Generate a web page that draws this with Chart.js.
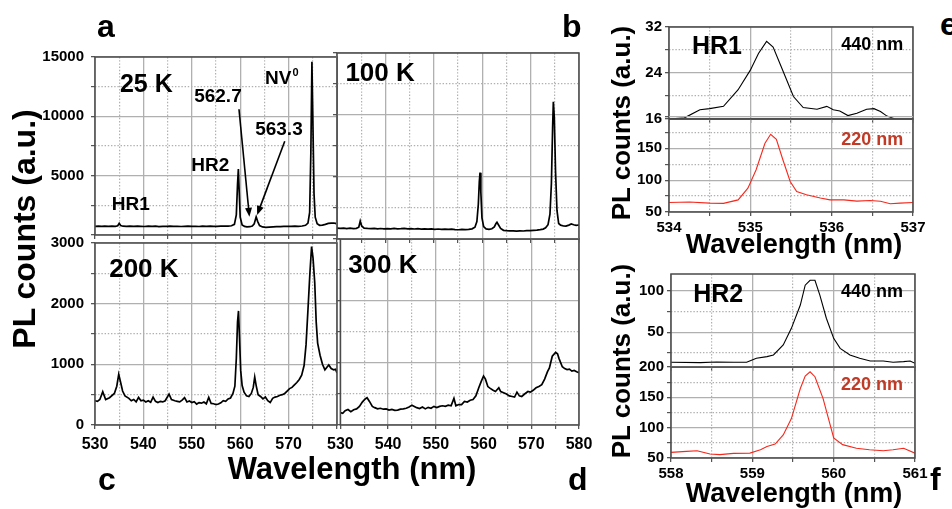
<!DOCTYPE html>
<html>
<head>
<meta charset="utf-8">
<script src="https://cdn.jsdelivr.net/npm/chart.js@4.4.1/dist/chart.umd.min.js"></script>
<style>
  body { margin: 0; background: #fff; width: 952px; height: 509px; overflow: hidden; position: relative;
         font-family: "Liberation Sans", Arial, Helvetica, sans-serif; }
  canvas { position: absolute; }
  .t { position: absolute; font-weight: bold; color: #000; white-space: nowrap; line-height: 1; }
</style>
</head>
<body>
<canvas id="pa"></canvas>
<canvas id="pb"></canvas>
<canvas id="pc"></canvas>
<canvas id="pd"></canvas>
<canvas id="peTop"></canvas>
<canvas id="peBot"></canvas>
<canvas id="pfTop"></canvas>
<canvas id="pfBot"></canvas>

<div class="t" style="left:-136px;top:213px;width:320px;text-align:center;font-size:32px;transform:rotate(-90deg)">PL counts (a.u.)</div>
<div class="t" style="left:152px;top:453px;width:400px;text-align:center;font-size:31px">Wavelength (nm)</div>
<div class="t" style="left:501px;top:110px;width:240px;text-align:center;font-size:26px;transform:rotate(-90deg)">PL counts (a.u.)</div>
<div class="t" style="left:644px;top:231px;width:300px;text-align:center;font-size:27px">Wavelength (nm)</div>
<div class="t" style="left:501px;top:348px;width:240px;text-align:center;font-size:26px;transform:rotate(-90deg)">PL counts (a.u.)</div>
<div class="t" style="left:644px;top:480px;width:300px;text-align:center;font-size:27px">Wavelength (nm)</div>

<div class="t" style="left:97px;top:10px;font-size:32px">a</div>
<div class="t" style="left:562px;top:10px;font-size:32px">b</div>
<div class="t" style="left:98px;top:463px;font-size:32px">c</div>
<div class="t" style="left:568px;top:463px;font-size:32px">d</div>
<div class="t" style="left:940px;top:8px;font-size:32px">e</div>
<div class="t" style="left:930px;top:463px;font-size:32px">f</div>

<script>
// spectra: [wavelength (nm), PL counts]
const spec25K = [[530,730],[530.7,745],[531.4,725],[532,740],[532.8,720],[533.5,745],[534.2,735],[534.7,780],[535.0,990],[535.3,800],[535.8,740],[536.5,725],[537.2,745],[538,720],[538.8,740],[539.5,730],[540.2,715],[541,740],[541.8,725],[542.5,745],[543.2,710],[544,735],[544.8,725],[545.5,745],[546.2,720],[547,735],[547.8,715],[548.5,730],[549.2,745],[550,725],[550.8,735],[551.5,715],[552.2,740],[553,730],[553.8,745],[554.5,725],[555.2,735],[556,740],[556.8,750],[557.5,745],[558.2,780],[558.8,900],[559.2,1700],[559.45,4300],[559.62,5560],[559.8,3600],[560.0,1500],[560.4,850],[560.9,720],[561.4,690],[562,700],[562.5,760],[562.9,950],[563.3,1530],[563.6,1150],[564,800],[564.6,680],[565.3,650],[566,670],[566.8,690],[567.5,700],[568.3,710],[569,720],[569.8,730],[570.5,725],[571.3,740],[572,735],[572.8,760],[573.5,820],[574,1000],[574.35,1900],[574.6,7000],[574.82,14590],[575.02,9500],[575.25,3500],[575.5,1500],[575.9,950],[576.4,820],[577,830],[577.6,900],[578.2,980],[578.8,1000],[579.3,1010],[579.7,980],[580,930]];
const spec100K = [[530,870],[530.7,850],[531.4,880],[532,845],[532.7,870],[533.4,840],[534,860],[534.5,950],[534.8,1450],[535.1,1050],[535.6,880],[536.3,850],[537,830],[537.7,855],[538.4,820],[539,845],[539.7,815],[540.4,840],[541.1,810],[541.8,850],[542.5,820],[543.2,835],[543.9,860],[544.6,815],[545.3,835],[546,805],[546.7,830],[547.4,800],[548.1,820],[548.8,790],[549.5,815],[550.2,780],[550.9,805],[551.6,775],[552.3,800],[553,770],[553.7,790],[554.4,760],[555.1,745],[555.8,770],[556.5,750],[557.2,780],[557.9,820],[558.5,950],[558.9,1400],[559.2,2800],[559.4,4600],[559.55,5350],[559.72,3800],[559.95,1700],[560.3,1000],[560.8,820],[561.4,780],[562,830],[562.5,980],[562.85,1250],[563.05,1350],[563.35,1150],[563.8,850],[564.4,700],[565,670],[565.7,650],[566.4,660],[567.1,640],[567.8,655],[568.5,645],[569.2,670],[569.9,680],[570.6,700],[571.3,720],[572,760],[572.6,800],[573.1,900],[573.6,1150],[574.0,2000],[574.3,4500],[574.55,9000],[574.7,11070],[574.9,9800],[575.15,5500],[575.45,2300],[575.8,1250],[576.2,1120],[576.8,1050],[577.3,1040],[577.9,1120],[578.4,1210],[578.9,1150],[579.4,1100],[580,1130]];
const spec200K = [[530,400],[530.5,390],[531,420],[531.6,550],[532.2,420],[533,450],[534,520],[534.5,640],[534.9,835],[535.3,700],[535.7,560],[536.2,480],[537,440],[537.5,400],[538,420],[538.5,380],[539,455],[539.5,400],[540,410],[540.5,380],[541,400],[541.5,375],[542,460],[542.5,390],[543,370],[543.5,390],[544,380],[544.5,400],[545.3,510],[545.8,420],[546.5,400],[547,390],[547.5,380],[548,410],[548.5,450],[549,380],[549.5,395],[550,370],[550.5,385],[551,345],[551.5,370],[552,360],[552.5,380],[553,350],[553.5,455],[554,355],[554.5,350],[555,335],[555.5,345],[556,365],[556.5,400],[557,390],[557.5,430],[558,445],[558.5,520],[558.9,640],[559.2,1100],[559.45,1700],[559.65,1880],[559.85,1450],[560.1,900],[560.4,650],[560.8,540],[561.3,480],[561.8,470],[562.3,520],[562.7,620],[563.0,790],[563.3,650],[563.7,500],[564.2,470],[564.7,430],[565.2,460],[565.7,400],[566.2,370],[566.7,440],[567.2,460],[567.7,470],[568.2,490],[568.7,500],[569.2,520],[569.7,560],[570.2,600],[570.7,620],[571.2,660],[571.7,700],[572.2,750],[572.7,820],[573.2,980],[573.6,1320],[574.0,1900],[574.4,2500],[574.75,2940],[575.05,2750],[575.4,2350],[575.7,1700],[576.0,1350],[576.5,1150],[577.0,1000],[577.5,910],[578.0,960],[578.3,990],[578.8,930],[579.3,910],[579.7,920],[580,860]];
const spec300K = [[530,200],[530.5,190],[531,230],[531.6,250],[532.2,215],[532.8,245],[533.4,260],[534,300],[534.6,370],[535.2,420],[535.6,440],[536.1,380],[536.7,300],[537.2,280],[537.8,260],[538.4,270],[539,255],[539.6,260],[540.2,240],[540.8,250],[541.4,235],[542,240],[542.6,255],[543.2,260],[543.8,270],[544.4,290],[545,320],[545.5,300],[546,280],[546.6,265],[547.2,290],[547.8,260],[548.4,285],[549,270],[549.6,300],[550.2,280],[550.8,300],[551.4,310],[552,300],[552.6,320],[553.2,310],[553.8,430],[554.2,310],[554.8,330],[555.4,330],[556,380],[556.6,370],[557.2,400],[557.8,410],[558.4,470],[559,600],[559.5,700],[560.0,790],[560.4,740],[560.9,620],[561.4,590],[562,560],[562.5,540],[563.2,600],[563.6,540],[564.2,520],[564.8,500],[565.4,470],[566,460],[566.5,450],[567,530],[567.5,470],[568,460],[568.6,500],[569.3,540],[569.8,530],[570.4,560],[571,600],[571.6,620],[572.2,650],[572.8,740],[573.4,860],[573.8,920],[574.4,1110],[575.1,1170],[575.5,1150],[575.8,1075],[576.5,940],[577,910],[577.5,895],[578,900],[578.5,870],[579,880],[579.5,860],[580,845]];

const hr1Ex440 = [[534.0,16.0],[534.19,16.2],[534.38,17.6],[534.5,17.8],[534.67,18.2],[534.85,21.1],[535.0,24.5],[535.1,27.4],[535.2,29.5],[535.28,28.5],[535.38,25.1],[535.53,19.9],[535.65,18.0],[535.82,17.7],[535.94,18.2],[536.02,17.6],[536.1,17.4],[536.2,16.6],[536.31,17.0],[536.43,17.7],[536.52,17.8],[536.6,17.3],[536.68,16.5],[536.78,16.0],[536.9,15.6],[537.0,15.4]];
const hr1Ex220 = [[534.0,65],[534.25,65.6],[534.5,64],[534.67,63.5],[534.85,69],[534.97,87.5],[535.07,116],[535.18,158],[535.25,172],[535.32,164],[535.4,132],[535.49,98],[535.57,82],[535.69,77],[535.86,72],[535.98,69],[536.15,69],[536.31,67],[536.47,68],[536.6,67],[536.72,63],[536.84,64],[537.0,65]];
const hr2Ex440 = [[558.0,13.7],[558.36,13.3],[558.56,14],[558.77,13.7],[558.93,13.7],[559.05,18.5],[559.18,20.6],[559.26,22.6],[559.38,34.7],[559.48,54.8],[559.59,83],[559.65,107],[559.71,113],[559.77,113],[559.83,95],[559.91,67],[560.0,42.7],[560.08,30.6],[560.2,22.6],[560.32,18.5],[560.45,15.3],[560.61,15.3],[560.73,13.7],[560.86,14.5],[560.94,15.3],[561.0,12.5]];
const hr2Ex220 = [[558.0,59.3],[558.19,61],[558.32,62],[558.48,56.5],[558.6,55.5],[558.77,57.6],[558.97,58],[559.1,63.6],[559.18,69],[559.28,73],[559.38,88],[559.48,115],[559.59,164.5],[559.65,185],[559.71,192],[559.77,184],[559.87,148],[560.0,83],[560.11,72],[560.28,66],[560.44,63.6],[560.61,62],[560.73,63.6],[560.86,66],[561.0,58]];

// tick values (major = solid grid, minor = dotted grid)
const wlMajor = [530, 540, 550, 560, 570, 580];
const wlMinor = [535, 545, 555, 565, 575];
const wlLabelsC = [530, 540, 550, 560, 570];
const countsHiMajor = [0, 5000, 10000, 15000];
const countsHiMinor = [2500, 7500, 12500];
const countsHiLabels = [5000, 10000, 15000];
const countsLoMajor = [0, 1000, 2000, 3000];
const countsLoMinor = [500, 1500, 2500];
const hr1WlMajor = [534, 535, 536, 537];
const hr1WlMinor = [534.5, 535.5, 536.5];
const hr2WlMajor = [558, 559, 560, 561];
const hr2WlMinor = [558.5, 559.5, 560.5];
const hr1TopMajor = [16, 24, 32];
const hr1TopMinor = [20, 28];
const hr2TopMajor = [50, 100];
const hr2TopMinor = [25, 75];
const exBotMajor = [50, 100, 150, 200];
const exBotMinor = [75, 125, 175];

const FONT = '"Liberation Sans", Arial, Helvetica, sans-serif';
const NARROW = '"Liberation Sans Narrow", "Arial Narrow", "Liberation Sans", Arial, sans-serif';
const RED = '#f5281c';
const DARKRED = '#c23a26';

const near = (list, v) => list.some(m => Math.abs(m - v) < 1e-6);

// draws text labels and arrows placed in data units
const notesPlugin = {
  id: 'notes',
  afterDatasetsDraw(chart, args, opts) {
    const ctx = chart.ctx, xs = chart.scales.x, ys = chart.scales.y;
    (opts.arrows || []).forEach(a => {
      const x0 = xs.getPixelForValue(a.from[0]), y0 = ys.getPixelForValue(a.from[1]);
      const x1 = xs.getPixelForValue(a.to[0]), y1 = ys.getPixelForValue(a.to[1]);
      const ang = Math.atan2(y1 - y0, x1 - x0);
      ctx.save();
      ctx.strokeStyle = '#000';
      ctx.fillStyle = '#000';
      ctx.lineWidth = 1.6;
      ctx.beginPath();
      ctx.moveTo(x0, y0);
      ctx.lineTo(x1 - 7 * Math.cos(ang), y1 - 7 * Math.sin(ang));
      ctx.stroke();
      ctx.beginPath();
      ctx.moveTo(x1, y1);
      ctx.lineTo(x1 - 9 * Math.cos(ang) + 3.5 * Math.sin(ang), y1 - 9 * Math.sin(ang) - 3.5 * Math.cos(ang));
      ctx.lineTo(x1 - 9 * Math.cos(ang) - 3.5 * Math.sin(ang), y1 - 9 * Math.sin(ang) + 3.5 * Math.cos(ang));
      ctx.closePath();
      ctx.fill();
      ctx.restore();
    });
    (opts.items || []).forEach(n => {
      const px = xs.getPixelForValue(n.x), py = ys.getPixelForValue(n.y);
      ctx.save();
      ctx.fillStyle = n.color || '#000';
      ctx.textBaseline = 'middle';
      ctx.font = `bold ${n.size}px ${FONT}`;
      const w = ctx.measureText(n.text).width;
      let supW = 0;
      if (n.sup) {
        ctx.font = `bold ${Math.round(n.size * 0.6)}px ${FONT}`;
        supW = ctx.measureText(n.sup).width + 1;
      }
      const left = px - (w + supW) / 2;
      ctx.textAlign = 'left';
      ctx.font = `bold ${n.size}px ${FONT}`;
      ctx.fillText(n.text, left, py);
      if (n.sup) {
        ctx.font = `bold ${Math.round(n.size * 0.6)}px ${FONT}`;
        ctx.fillText(n.sup, left + w + 1, py - n.size * 0.32);
      }
      ctx.restore();
    });
  }
};

const framePlugin = {
  id: 'frame',
  afterDraw(chart) {
    const { ctx, chartArea: a } = chart;
    ctx.save();
    ctx.strokeStyle = '#4a4a4a';
    ctx.lineWidth = 1.5;
    ctx.strokeRect(a.left, a.top, a.right - a.left, a.bottom - a.top);
    ctx.restore();
  }
};

function axis(pos, min, max, major, minor, labels, size, font) {
  return {
    type: 'linear',
    position: pos,
    min: min,
    max: max,
    afterBuildTicks: s => {
      s.ticks = major.concat(minor).sort((p, q) => p - q).map(v => ({ value: v }));
    },
    afterFit: s => {
      if (pos === 'left') s.width = size; else s.height = size;
    },
    grid: {
      color: '#b0b0b0',
      lineWidth: c => (c.tick && near(major, c.tick.value)) ? 1.3 : 1.2,
      tickLength: 4,
      tickColor: '#555'
    },
    border: {
      display: false,
      dash: c => (c.tick && !near(major, c.tick.value)) ? [1.4, 1.8] : []
    },
    ticks: {
      display: labels.length > 0,
      autoSkip: false,
      maxRotation: 0,
      minRotation: 0,
      padding: font.pad,
      color: '#000',
      font: { family: font.family, size: font.size, weight: 'bold' },
      callback: v => near(labels, v) ? String(v) : ''
    }
  };
}

function panel(id, box, pad, xAxis, yAxis, series, notes) {
  const cv = document.getElementById(id);
  cv.width = box.w + pad.l + pad.r;
  cv.height = box.h + pad.t + pad.b;
  cv.style.left = (box.x - pad.l) + 'px';
  cv.style.top = (box.y - pad.t) + 'px';
  return new Chart(cv, {
    type: 'line',
    data: {
      datasets: series.map(s => ({
        data: s.data.map(p => ({ x: p[0], y: p[1] })),
        borderColor: s.color,
        borderWidth: s.width,
        pointRadius: 0,
        tension: 0,
        fill: false
      }))
    },
    options: {
      responsive: false,
      animation: false,
      layout: { autoPadding: false, padding: { left: 0, top: pad.t, right: pad.r, bottom: 0 } },
      scales: { x: xAxis(pad.b), y: yAxis(pad.l) },
      plugins: {
        legend: { display: false },
        tooltip: { enabled: false },
        notes: notes
      }
    },
    plugins: [notesPlugin, framePlugin]
  });
}

const yFontMain = { family: NARROW, size: 15, pad: 7 };
const xFontMain = { family: FONT, size: 16, pad: 6 };
const fontSide = { family: FONT, size: 15, pad: 3 };

// a: 25 K
panel('pa', { x: 95, y: 53, w: 242, h: 186 }, { l: 95, t: 12, r: 12, b: 12 },
  sz => axis('bottom', 530, 580, wlMajor, wlMinor, [], sz, xFontMain),
  sz => axis('left', 0, 15000, countsHiMajor, countsHiMinor, countsHiLabels, sz, yFontMain),
  [{ data: spec25K, color: '#000', width: 1.7 }],
  {
    items: [
      { text: '25 K', x: 540.6, y: 12660, size: 25 },
      { text: 'NV', sup: '0', x: 568.6, y: 13150, size: 19 },
      { text: '562.7', x: 555.4, y: 11610, size: 19 },
      { text: '563.3', x: 568.0, y: 8870, size: 19 },
      { text: 'HR2', x: 553.8, y: 5810, size: 19 },
      { text: 'HR1', x: 537.4, y: 2580, size: 19 }
    ],
    arrows: [
      { from: [559.75, 10600], to: [561.9, 1530] },
      { from: [569.2, 7900], to: [563.5, 1690] }
    ]
  });

// b: 100 K
panel('pb', { x: 337, y: 53, w: 242, h: 186 }, { l: 12, t: 12, r: 12, b: 12 },
  sz => axis('bottom', 530, 580, wlMajor, wlMinor, [], sz, xFontMain),
  sz => axis('left', 0, 15000, countsHiMajor, countsHiMinor, [], sz, yFontMain),
  [{ data: spec100K, color: '#000', width: 1.7 }],
  { items: [{ text: '100 K', x: 538.9, y: 13300, size: 26 }] });

// c: 200 K
panel('pc', { x: 95, y: 239, w: 242, h: 186 }, { l: 95, t: 12, r: 12, b: 34 },
  sz => axis('bottom', 530, 580, wlMajor, wlMinor, wlLabelsC, sz, xFontMain),
  sz => axis('left', 0, 3000, countsLoMajor, countsLoMinor, countsLoMajor, sz, yFontMain),
  [{ data: spec200K, color: '#000', width: 1.7 }],
  { items: [{ text: '200 K', x: 540.1, y: 2565, size: 26 }] });

// d: 300 K
panel('pd', { x: 337, y: 239, w: 242, h: 186 }, { l: 16, t: 12, r: 24, b: 34 },
  sz => axis('bottom', 530, 580, wlMajor, wlMinor, wlMajor, sz, xFontMain),
  sz => axis('left', 0, 3000, countsLoMajor, countsLoMinor, [], sz, yFontMain),
  [{ data: spec300K, color: '#000', width: 1.7 }],
  { items: [{ text: '300 K', x: 538.9, y: 2565, size: 26 }] });

// e: HR1, 440 nm / 220 nm excitation
panel('peTop', { x: 669, y: 27, w: 244, h: 92 }, { l: 45, t: 12, r: 12, b: 12 },
  sz => axis('bottom', 534, 537, hr1WlMajor, hr1WlMinor, [], sz, fontSide),
  sz => axis('left', 16, 32, hr1TopMajor, hr1TopMinor, hr1TopMajor, sz, fontSide),
  [{ data: hr1Ex440, color: '#000', width: 1.1 }],
  { items: [
      { text: 'HR1', x: 534.59, y: 28.5, size: 25 },
      { text: '440 nm', x: 536.5, y: 28.9, size: 18 }
  ] });

panel('peBot', { x: 669, y: 119, w: 244, h: 93 }, { l: 45, t: 12, r: 16, b: 28 },
  sz => axis('bottom', 534, 537, hr1WlMajor, hr1WlMinor, hr1WlMajor, sz, fontSide),
  sz => axis('left', 50, 196, exBotMajor, exBotMinor, [50, 100, 150], sz, fontSide),
  [{ data: hr1Ex220, color: RED, width: 1.1 }],
  { items: [{ text: '220 nm', x: 536.5, y: 162.6, size: 18, color: DARKRED }] });

// f: HR2, 440 nm / 220 nm excitation
panel('pfTop', { x: 671, y: 274, w: 244, h: 93 }, { l: 45, t: 12, r: 12, b: 12 },
  sz => axis('bottom', 558, 561, hr2WlMajor, hr2WlMinor, [], sz, fontSide),
  sz => axis('left', 8, 120.6, hr2TopMajor, hr2TopMinor, hr2TopMajor, sz, fontSide),
  [{ data: hr2Ex440, color: '#000', width: 1.1 }],
  { items: [
      { text: 'HR2', x: 558.58, y: 95.2, size: 25 },
      { text: '440 nm', x: 560.47, y: 98.8, size: 18 }
  ] });

panel('pfBot', { x: 671, y: 367, w: 244, h: 91 }, { l: 45, t: 12, r: 16, b: 28 },
  sz => axis('bottom', 558, 561, hr2WlMajor, hr2WlMinor, hr2WlMajor, sz, fontSide),
  sz => axis('left', 50, 200, exBotMajor, exBotMinor, exBotMajor, sz, fontSide),
  [{ data: hr2Ex220, color: RED, width: 1.1 }],
  { items: [{ text: '220 nm', x: 560.47, y: 170.3, size: 18, color: DARKRED }] });
</script>
</body>
</html>
